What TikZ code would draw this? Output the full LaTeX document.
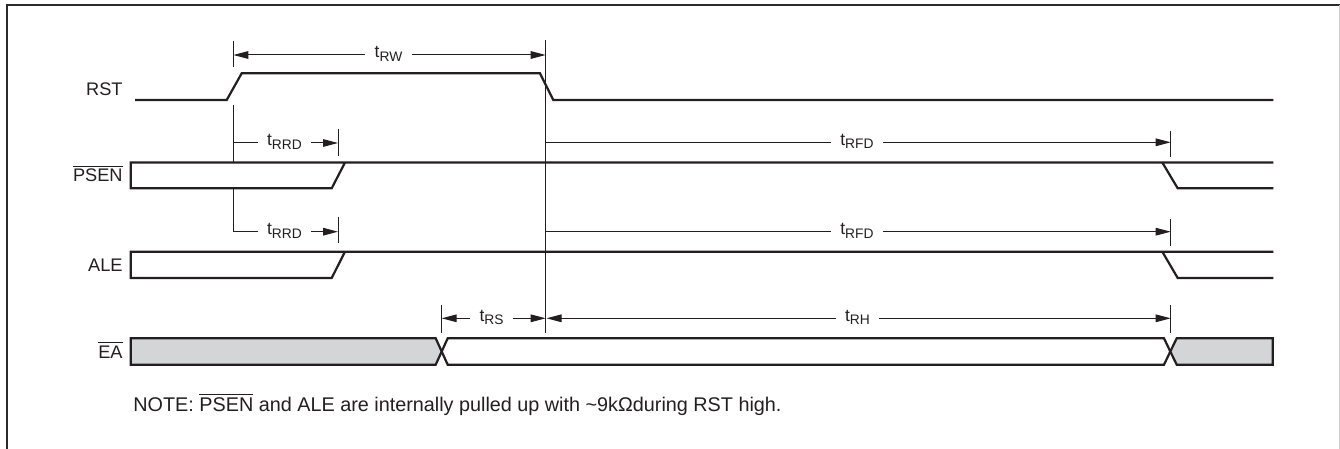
\documentclass[tikz,border=0pt]{standalone}
\usepackage{fontspec}
\setmainfont{Liberation Sans}
\usetikzlibrary{arrows.meta}
\definecolor{ink}{HTML}{231F20}
\definecolor{shade}{HTML}{D4D5D7}
\definecolor{framegray}{HTML}{2B2B2B}
\newcommand\ovl[1]{$\overline{\hbox{#1}}$}
\newcommand\tsym[1]{t\raisebox{-1.7pt}{\fontsize{6.9pt}{8pt}\selectfont #1}}
\begin{document}
\begin{tikzpicture}[x=0.5pt,y=-0.5pt,
  sig/.style={line width=1.1pt,draw=ink,line join=miter},
  fine/.style={line width=0.5pt,draw=ink},
  arr/.style={fine,-{Triangle[length=7.5pt,width=3.8pt]}},
  lbl/.style={font=\fontsize{9.1pt}{11pt}\selectfont,inner sep=0pt,anchor=base east,text=ink},
  tlbl/.style={font=\fontsize{8.7pt}{10pt}\selectfont,inner ysep=0pt,inner xsep=4.5pt,anchor=base,text=ink},
]
\useasboundingbox (0,0) rectangle (1340,449);
% frame
\draw[line width=1.1pt,draw=framegray] (6.7,449) -- (6.7,5) -- (1340,5);
\draw[line width=0.5pt,draw=black!20] (1339.2,5) -- (1339.2,449);

% signal labels
\node[lbl] (rst) at (123,95.5) {RST};
\node[lbl] (psen) at (123,182) {\ovl{PSEN}};
\node[lbl] (ale) at (123,271) {ALE};
\node[lbl] (ea) at (123,358) {\ovl{EA}};

% RST waveform
\draw[sig] (135,100) -- (226.7,100) -- (241.7,73.3) -- (540,73.3) -- (553.3,100) -- (1273.3,100);

% PSEN waveform
\draw[sig] (1273.3,162.5) -- (130.7,162.5) -- (130.7,188.3) -- (331.7,188.3) -- (345,162.5);
\draw[sig] (1162.3,162.5) -- (1177.7,188.3) -- (1273.3,188.3);

% ALE waveform
\draw[sig] (1273.3,251.7) -- (130.7,251.7) -- (130.7,278) -- (331.7,278) -- (345,251.7);
\draw[sig] (1162.3,251.7) -- (1177.7,278) -- (1273.3,278);

% EA waveform
\filldraw[sig,fill=shade] (130.7,338.3) -- (435.7,338.3) -- (441.7,351.5) -- (435.7,364.7) -- (130.7,364.7) -- cycle;
\draw[sig] (447.7,338.3) -- (1164,338.3) -- (1170.3,351.5) -- (1164,364.7) -- (447.7,364.7) -- (441.7,351.5) -- cycle;
\filldraw[sig,fill=shade] (1176.7,338.3) -- (1272.7,338.3) -- (1272.7,364.7) -- (1176.7,364.7) -- (1170.3,351.5) -- cycle;

% timing labels
\node[tlbl] (trw) at (388.5,58) {\tsym{RW}};
\node[tlbl] (trrd1) at (284.5,146) {\tsym{RRD}};
\node[tlbl] (trrd2) at (284.5,234.7) {\tsym{RRD}};
\node[tlbl] (trfd1) at (857,145.3) {\tsym{RFD}};
\node[tlbl] (trfd2) at (857,234.7) {\tsym{RFD}};
\node[tlbl] (trs) at (491.5,321.3) {\tsym{RS}};
\node[tlbl] (trh) at (857.5,321.3) {\tsym{RH}};

% reference lines and ticks
\draw[fine] (233.3,40.7) -- (233.3,67);
\draw[fine] (545.7,40) -- (545.7,332.7);
\draw[fine] (233.3,105) -- (233.3,162.5);
\draw[fine] (338,129) -- (338,156);
\draw[fine] (338,216.7) -- (338,242.7);
\draw[fine] (1170.7,130.7) -- (1170.7,157.3);
\draw[fine] (1170.7,219.3) -- (1170.7,246);
\draw[fine] (441.7,305) -- (441.7,332.7);
\draw[fine] (1170.7,305.3) -- (1170.7,332.7);

% tRW
\coordinate (rwL) at (233.3,55);
\coordinate (rwR) at (545.7,55);
\draw[arr] (trw.west |- rwL) -- (rwL);
\draw[arr] (trw.east |- rwR) -- (rwR);

% tRRD upper
\coordinate (rrdAL) at (233.3,143);
\coordinate (rrdAR) at (338,143);
\draw[fine] (rrdAL) -- (trrd1.west |- rrdAL);
\draw[arr] (trrd1.east |- rrdAR) -- (rrdAR);

% tRRD lower
\coordinate (rrdBT) at (233.3,188.3);
\coordinate (rrdBL) at (233.3,231.7);
\coordinate (rrdBR) at (338,231.7);
\draw[fine] (rrdBT) -- (rrdBL) -- (trrd2.west |- rrdBL);
\draw[arr] (trrd2.east |- rrdBR) -- (rrdBR);

% tRFD upper
\coordinate (rfdAL) at (545.7,142.3);
\coordinate (rfdAR) at (1170.7,142.3);
\draw[fine] (rfdAL) -- (trfd1.west |- rfdAL);
\draw[arr] (trfd1.east |- rfdAR) -- (rfdAR);

% tRFD lower
\coordinate (rfdBL) at (545.7,231.7);
\coordinate (rfdBR) at (1170.7,231.7);
\draw[fine] (rfdBL) -- (trfd2.west |- rfdBL);
\draw[arr] (trfd2.east |- rfdBR) -- (rfdBR);

% tRS
\coordinate (rsL) at (441.7,318.3);
\coordinate (rsR) at (545.7,318.3);
\draw[arr] (trs.west |- rsL) -- (rsL);
\draw[arr] (trs.east |- rsR) -- (rsR);

% tRH
\coordinate (rhL) at (546.5,318.3);
\coordinate (rhR) at (1170.7,318.3);
\draw[arr] (trh.west |- rhL) -- (rhL);
\draw[arr] (trh.east |- rhR) -- (rhR);

% note
\node[anchor=base west,font=\fontsize{9.9pt}{12pt}\selectfont,inner sep=0pt,text=ink] (note) at (133,411)
  {NOTE: \ovl{PSEN} and ALE are internally pulled up with \textasciitilde9kΩduring RST high.};
\end{tikzpicture}
\end{document}
